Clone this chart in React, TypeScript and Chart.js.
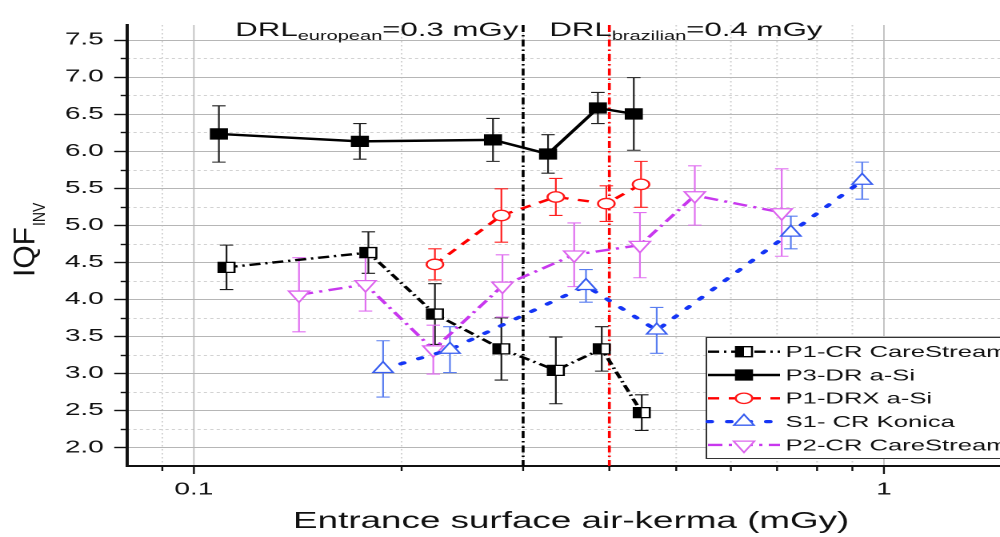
import React, { useEffect, useRef } from 'react';
import { Chart, registerables } from 'chart.js';

Chart.register(...registerables);

const FONT = '"Liberation Sans", Arial, Helvetica, sans-serif';

// ---------------- data ----------------
const seriesLabels = ['P1-CR CareStream', 'P3-DR a-Si', 'P1-DRX a-Si', 'S1- CR Konica', 'P2-CR CareStream'];

const p1crX = [0.1115, 0.179, 0.2235, 0.279, 0.3346, 0.39, 0.4457];
const p1crY = [4.43, 4.63, 3.8, 3.33, 3.04, 3.33, 2.47];
const p1crErr = [0.3, 0.28, 0.41, 0.42, 0.45, 0.3, 0.24];

const p3X = [0.1087, 0.174, 0.2713, 0.326, 0.385, 0.434];
const p3Y = [6.23, 6.13, 6.15, 5.96, 6.58, 6.5];
const p3Err = [0.38, 0.24, 0.29, 0.26, 0.21, 0.49];

const p1drxX = [0.2235, 0.279, 0.3346, 0.396, 0.4446];
const p1drxY = [4.47, 5.13, 5.38, 5.29, 5.55];
const p1drxErr = [0.21, 0.36, 0.25, 0.24, 0.31];

const s1X = [0.188, 0.235, 0.37, 0.4685, 0.733, 0.93];
const s1Y = [3.06, 3.32, 4.18, 3.58, 4.9, 5.6];
const s1Err = [0.38, 0.31, 0.22, 0.31, 0.22, 0.25];

const p2X = [0.142, 0.1773, 0.2223, 0.28, 0.3557, 0.443, 0.532, 0.711];
const p2Y = [4.06, 4.2, 3.32, 4.18, 4.6, 4.73, 5.4, 5.17];
const p2Err = [0.5, 0.36, 0.33, 0.42, 0.43, 0.44, 0.4, 0.59];

const xTickValues = [0.1, 1];
const xMinorTickValues = [0.09, 0.2, 0.3, 0.4, 0.5, 0.6, 0.7, 0.8, 0.9, 2];
const yTickValues = [2.0, 2.5, 3.0, 3.5, 4.0, 4.5, 5.0, 5.5, 6.0, 6.5, 7.0, 7.5];
const yMinorTickValues = [2.25, 2.75, 3.25, 3.75, 4.25, 4.75, 5.25, 5.75, 6.25, 6.75, 7.25];

const drlEuropean = 0.3;
const drlBrazilian = 0.4;

const xTitle = 'Entrance surface air-kerma (mGy)';

// ---------------- styles ----------------
type Marker = 'half' | 'rect' | 'circle' | 'tri' | 'triDown';
const series = [
  { label: seriesLabels[0], xs: p1crX, ys: p1crY, err: p1crErr, color: '#000000', errColor: '#1a1a1a', dash: [7, 3, 1.5, 3], cap: 'butt', width: 2.4, marker: 'half' as Marker, mColor: '#000000', mFill: '#ffffff', r: 7.07 },
  { label: seriesLabels[1], xs: p3X, ys: p3Y, err: p3Err, color: '#000000', errColor: '#222222', dash: [], cap: 'butt', width: 2.4, marker: 'rect' as Marker, mColor: '#000000', mFill: '#000000', r: 7.07 },
  { label: seriesLabels[2], xs: p1drxX, ys: p1drxY, err: p1drxErr, color: '#ff0000', errColor: '#ff2020', dash: [7, 6], cap: 'butt', width: 2.4, marker: 'circle' as Marker, mColor: '#ff1a1a', mFill: '#ffffff', r: 5.2 },
  { label: seriesLabels[3], xs: s1X, ys: s1Y, err: s1Err, color: '#1535f5', errColor: '#5a7ef0', dash: [2.2, 10], cap: 'round', width: 3.2, marker: 'tri' as Marker, mColor: '#3a5ff0', mFill: '#ffffff', r: 7.2 },
  { label: seriesLabels[4], xs: p2X, ys: p2Y, err: p2Err, color: '#c838ee', errColor: '#e070f0', dash: [9, 4, 2, 4], cap: 'butt', width: 2.4, marker: 'triDown' as Marker, mColor: '#dd66ee', mFill: '#ffffff', r: 7.5 },
];

function drawMarker(ctx: CanvasRenderingContext2D, s: any, x: number, y: number) {
  ctx.save();
  ctx.lineWidth = 1.3;
  ctx.strokeStyle = s.mColor;
  ctx.fillStyle = s.mFill;
  ctx.setLineDash([]);
  const r = s.r;
  ctx.beginPath();
  if (s.marker === 'rect' || s.marker === 'half') {
    const h = r * Math.SQRT1_2;
    ctx.rect(x - h, y - h, 2 * h, 2 * h);
    ctx.fill();
    ctx.stroke();
    if (s.marker === 'half') {
      ctx.fillStyle = '#000';
      ctx.fillRect(x - h, y - h, h, 2 * h);
    }
  } else if (s.marker === 'circle') {
    ctx.arc(x, y, r, 0, Math.PI * 2);
    ctx.fill();
    ctx.stroke();
  } else {
    const sign = s.marker === 'tri' ? 1 : -1;
    const w = r * Math.sqrt(3) / 2;
    ctx.moveTo(x, y - sign * r);
    ctx.lineTo(x + w, y + sign * r / 2);
    ctx.lineTo(x - w, y + sign * r / 2);
    ctx.closePath();
    ctx.fill();
    ctx.stroke();
  }
  ctx.restore();
}

function drawSubText(ctx: CanvasRenderingContext2D, x: number, y: number, a: string, sub: string, b: string, size: number, subSize: number, drop: number) {
  ctx.textAlign = 'left';
  ctx.textBaseline = 'alphabetic';
  ctx.font = `${size}px ${FONT}`;
  ctx.fillText(a, x, y);
  x += ctx.measureText(a).width;
  ctx.font = `${subSize}px ${FONT}`;
  ctx.fillText(sub, x, y + drop);
  x += ctx.measureText(sub).width;
  ctx.font = `${size}px ${FONT}`;
  ctx.fillText(b, x, y);
}

function subTextWidth(ctx: CanvasRenderingContext2D, a: string, sub: string, b: string, size: number, subSize: number) {
  ctx.font = `${size}px ${FONT}`;
  let w = ctx.measureText(a).width + ctx.measureText(b).width;
  ctx.font = `${subSize}px ${FONT}`;
  w += ctx.measureText(sub).width;
  return w;
}

const decorPlugin = {
  id: 'decor',
  beforeDraw(chart: any) {
    const { ctx, chartArea: a } = chart;
    const x = chart.scales.x;
    const y = chart.scales.y;
    ctx.save();
    ctx.lineWidth = 1;
    // minor grid
    ctx.strokeStyle = '#d2d2d2';
    ctx.setLineDash([2, 2]);
    yMinorTickValues.forEach((v) => {
      const py = Math.round(y.getPixelForValue(v)) + 0.5;
      ctx.beginPath(); ctx.moveTo(a.left, py); ctx.lineTo(a.right, py); ctx.stroke();
    });
    ctx.setLineDash([1.5, 2.5]);
    xMinorTickValues.forEach((v) => {
      const px = x.getPixelForValue(v);
      ctx.beginPath(); ctx.moveTo(px, a.top); ctx.lineTo(px, a.bottom); ctx.stroke();
    });
    // major grid
    ctx.setLineDash([]);
    ctx.strokeStyle = '#b6b6b6';
    yTickValues.forEach((v) => {
      const py = Math.round(y.getPixelForValue(v)) + 0.5;
      ctx.beginPath(); ctx.moveTo(a.left, py); ctx.lineTo(a.right, py); ctx.stroke();
    });
    ctx.lineWidth = 0.8;
    xTickValues.forEach((v) => {
      const px = x.getPixelForValue(v);
      ctx.beginPath(); ctx.moveTo(px, a.top); ctx.lineTo(px, a.bottom); ctx.stroke();
    });
    ctx.restore();
  },
  beforeDatasetsDraw(chart: any) {
    const { ctx, chartArea: a } = chart;
    const x = chart.scales.x;
    const y = chart.scales.y;
    ctx.save();
    // DRL lines
    ctx.lineWidth = 1.8;
    ctx.setLineDash([7, 3, 1.5, 3]);
    [[drlEuropean, '#000000'], [drlBrazilian, '#ff0000']].forEach(([v, c]: any) => {
      const px = x.getPixelForValue(v);
      ctx.strokeStyle = c;
      ctx.beginPath(); ctx.moveTo(px, a.top); ctx.lineTo(px, a.bottom); ctx.stroke();
    });
    ctx.setLineDash([]);
    // error bars
    ctx.lineWidth = 1.1;
    series.forEach((s) => {
      ctx.strokeStyle = s.errColor;
      s.xs.forEach((xv, i) => {
        const px = x.getPixelForValue(xv);
        const pt = y.getPixelForValue(s.ys[i] + s.err[i]);
        const pb = y.getPixelForValue(s.ys[i] - s.err[i]);
        const cw = 4.2;
        ctx.beginPath();
        ctx.moveTo(px, pt); ctx.lineTo(px, pb);
        ctx.moveTo(px - cw, pt); ctx.lineTo(px + cw, pt);
        ctx.moveTo(px - cw, pb); ctx.lineTo(px + cw, pb);
        ctx.stroke();
      });
    });
    ctx.restore();
  },
  afterDatasetsDraw(chart: any) {
    const { ctx } = chart;
    // half-filled squares of P1-CR
    const meta = chart.getDatasetMeta(0);
    const h = series[0].r * Math.SQRT1_2;
    ctx.save();
    ctx.fillStyle = '#000';
    meta.data.forEach((p: any) => {
      ctx.fillRect(p.x - h, p.y - h, h, 2 * h);
    });
    ctx.restore();
  },
  afterDraw(chart: any) {
    const { ctx, chartArea: a } = chart;
    const x = chart.scales.x;
    const y = chart.scales.y;
    ctx.save();
    ctx.strokeStyle = '#111';
    ctx.setLineDash([]);
    // y tick marks
    ctx.lineWidth = 1.4;
    yTickValues.forEach((v) => {
      const py = Math.round(y.getPixelForValue(v)) + 0.5;
      ctx.beginPath(); ctx.moveTo(a.left - 8, py); ctx.lineTo(a.left, py); ctx.stroke();
    });
    yMinorTickValues.forEach((v) => {
      const py = Math.round(y.getPixelForValue(v)) + 0.5;
      ctx.beginPath(); ctx.moveTo(a.left - 4, py); ctx.lineTo(a.left, py); ctx.stroke();
    });
    // x tick marks
    ctx.lineWidth = 1.2;
    xTickValues.forEach((v) => {
      const px = x.getPixelForValue(v);
      ctx.beginPath(); ctx.moveTo(px, a.bottom); ctx.lineTo(px, a.bottom + 8); ctx.stroke();
    });
    xMinorTickValues.forEach((v) => {
      const px = x.getPixelForValue(v);
      ctx.beginPath(); ctx.moveTo(px, a.bottom); ctx.lineTo(px, a.bottom + 5); ctx.stroke();
    });

    // DRL annotations
    ctx.fillStyle = '#111';
    const w1 = subTextWidth(ctx, 'DRL', 'european', '=0.3 mGy', 19.5, 12.5);
    drawSubText(ctx, x.getPixelForValue(drlEuropean) - 3 - w1, 36, 'DRL', 'european', '=0.3 mGy', 19.5, 12.5, 4);
    drawSubText(ctx, x.getPixelForValue(drlBrazilian) - 37.5, 36, 'DRL', 'brazilian', '=0.4 mGy', 19.5, 12.5, 4);

    // x title
    ctx.font = `23px ${FONT}`;
    ctx.textAlign = 'center';
    ctx.textBaseline = 'alphabetic';
    ctx.fillText(xTitle, 357, 528);

    // y title (rotated, with subscript)
    ctx.save();
    ctx.translate(21.5, 277);
    ctx.rotate(-Math.PI / 2);
    ctx.textAlign = 'left';
    ctx.save();
    ctx.scale(1, 0.6);
    ctx.font = `30px ${FONT}`;
    ctx.fillText('IQF', 0, 0);
    const wq = ctx.measureText('IQF').width;
    ctx.restore();
    ctx.save();
    ctx.translate(wq + 1, 6.5);
    ctx.scale(1, 0.8);
    ctx.font = `14px ${FONT}`;
    ctx.fillText('INV', 0, 0);
    ctx.restore();
    ctx.restore();

    // legend
    const bx = 441, by = 337, bh = 121;
    ctx.fillStyle = '#ffffff';
    ctx.fillRect(bx, by, 300, bh);
    ctx.lineWidth = 1;
    ctx.strokeStyle = '#333';
    ctx.strokeRect(bx + 0.5, by + 0.5, 300, bh);
    series.forEach((s, i) => {
      const ly = 351.7 + i * 23.3;
      ctx.save();
      ctx.strokeStyle = s.color;
      ctx.lineWidth = s.width;
      ctx.lineCap = s.cap as CanvasLineCap;
      ctx.setLineDash(s.dash);
      ctx.beginPath(); ctx.moveTo(442.5, ly); ctx.lineTo(487.5, ly); ctx.stroke();
      ctx.restore();
      drawMarker(ctx, s, 465, ly);
      ctx.fillStyle = '#111';
      ctx.font = `16px ${FONT}`;
      ctx.textAlign = 'left';
      ctx.textBaseline = 'middle';
      ctx.fillText(s.label, 491, ly + 1);
    });
    ctx.restore();
  },
};

export default function App() {
  const ref = useRef<HTMLCanvasElement | null>(null);
  useEffect(() => {
    const canvas = ref.current;
    if (!canvas) return;
    const chart = new Chart(canvas, {
      type: 'scatter',
      data: {
        datasets: series.map((s) => ({
          label: s.label,
          data: s.xs.map((xv, i) => ({ x: xv, y: s.ys[i] })),
          showLine: true,
          borderColor: s.color,
          borderWidth: s.width,
          borderDash: s.dash,
          borderCapStyle: s.cap as any,
          tension: 0,
          pointStyle: s.marker === 'circle' ? 'circle' : s.marker === 'rect' || s.marker === 'half' ? 'rect' : 'triangle',
          pointRotation: s.marker === 'triDown' ? 180 : 0,
          pointRadius: s.r,
          pointBorderColor: s.mColor,
          pointBackgroundColor: s.mFill,
          pointBorderWidth: 1.3,
        })),
      },
      options: {
        responsive: false,
        animation: false,
        devicePixelRatio: 2,
        layout: { padding: { top: 15, right: 17.7, left: 0, bottom: 0 } },
        plugins: { legend: { display: false }, tooltip: { enabled: false } },
        scales: {
          x: {
            type: 'logarithmic',
            min: 0.08,
            max: 2,
            afterBuildTicks: (scale: any) => {
              scale.ticks = xTickValues.map((v) => ({ value: v }));
            },
            afterFit: (scale: any) => {
              scale.height = 71;
            },
            ticks: {
              autoSkip: false,
              maxRotation: 0,
              padding: 13,
              color: '#111',
              font: { family: FONT, size: 17.5 },
              callback: (v: any) => String(v),
            },
            grid: { display: false, drawTicks: false },
            border: { display: true, color: '#111', width: 2 },
          },
          y: {
            type: 'linear',
            min: 1.75,
            max: 7.7,
            afterBuildTicks: (scale: any) => {
              scale.ticks = yTickValues.map((v) => ({ value: v }));
            },
            afterFit: (scale: any) => {
              scale.width = 79.4;
            },
            ticks: {
              autoSkip: false,
              padding: 14.5,
              color: '#111',
              font: { family: FONT, size: 17.5 },
              callback: (v: any) => Number(v).toFixed(1),
            },
            grid: { display: false, drawTicks: false },
            border: { display: true, color: '#111', width: 2 },
          },
        },
      } as any,
      plugins: [decorPlugin],
    });
    return () => chart.destroy();
  }, []);

  return (
    <div style={{ position: 'absolute', left: 0, top: 0, width: 1000, height: 537, overflow: 'hidden', background: '#ffffff' }}>
      <div style={{ width: 700, height: 537, transform: 'scaleX(1.6)', transformOrigin: '0 0' }}>
        <canvas ref={ref} width={700} height={537} />
      </div>
    </div>
  );
}
